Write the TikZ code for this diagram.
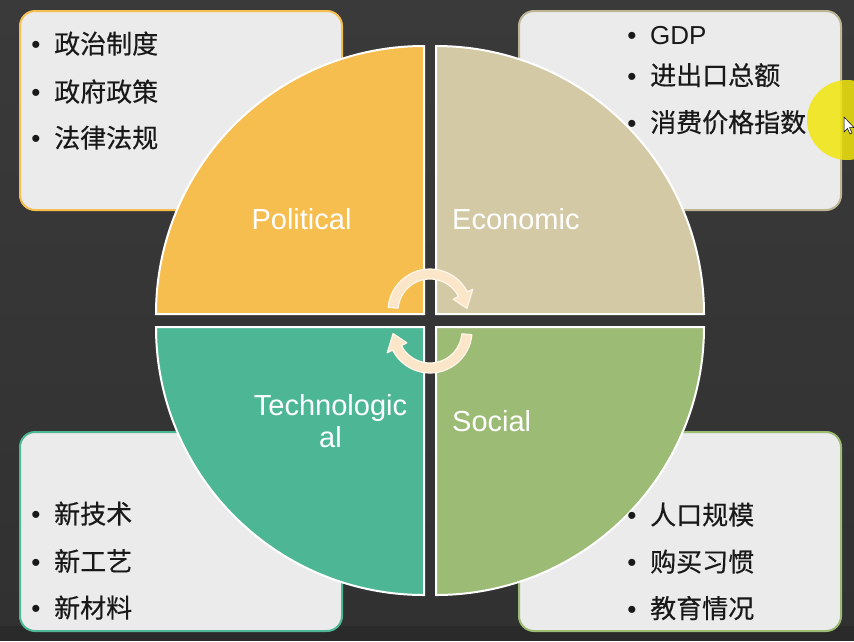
\documentclass[tikz,border=0pt]{standalone}
\usepackage{fontspec}
\setmainfont{Liberation Sans}
\newfontfamily\cjk[FakeBold=0.4]{Noto Sans CJK SC}
\usetikzlibrary{calc}
\definecolor{bgtop}{HTML}{3A3A3A}
\definecolor{bgbot}{HTML}{313131}
\definecolor{strip}{HTML}{2A2A2A}
\definecolor{boxfill}{HTML}{EBEBEB}
\definecolor{cpol}{HTML}{F6BD4F}
\definecolor{ceco}{HTML}{D3C9A5}
\definecolor{ctec}{HTML}{4DB795}
\definecolor{csoc}{HTML}{9CBB74}
\definecolor{arrowfill}{HTML}{FBE6CA}
\definecolor{arrowedge}{HTML}{FFF6EA}
\definecolor{hilite}{HTML}{F2E60E}
\tikzset{
  box/.style={draw, line width=2pt, fill=boxfill, rounded corners=15pt,
    minimum width=322pt, minimum height=199pt, inner sep=0pt},
  quad/.style={draw=white, line width=2pt},
  lab/.style={text=white, font=\fontsize{29}{32}\selectfont, inner sep=0pt},
  item/.style={anchor=base west, font=\cjk\fontsize{26}{30}\selectfont, inner sep=0pt, text=black!90},
  latinitem/.style={anchor=base west, font=\fontsize{26}{30}\selectfont, inner sep=0pt, text=black!90},
  bul/.style={anchor=base, font=\fontsize{26}{30}\selectfont, inner sep=0pt, text=black!90},
  carrow/.style={fill=arrowfill, draw=arrowedge, line width=1.2pt, line join=round},
}
\begin{document}
\begin{tikzpicture}[x=1pt,y=-1pt]
\useasboundingbox (0,0) rectangle (854,641);
% background
\shade[top color=bgtop, bottom color=bgbot] (0,0) rectangle (854,626);
\fill[strip] (0,626) rectangle (854,641);

% corner boxes
\node[box, draw=cpol] (boxP) at (181,110.5) {};
\node[box, draw=ceco!90!black] (boxE) at (680,110.5) {};
\node[box, draw=ctec] (boxT) at (181,531.5) {};
\node[box, draw=csoc] (boxS) at (680,531.5) {};

% quadrants
\filldraw[quad, fill=cpol] (424,314) -- (156,314) arc[start angle=180, end angle=270, radius=268] -- cycle;
\filldraw[quad, fill=ceco] (436,314) -- (436,46) arc[start angle=270, end angle=360, radius=268] -- cycle;
\filldraw[quad, fill=ctec] (424,327) -- (424,595) arc[start angle=90, end angle=180, radius=268] -- cycle;
\filldraw[quad, fill=csoc] (436,327) -- (704,327) arc[start angle=0, end angle=90, radius=268] -- cycle;

% quadrant labels
\node[lab] (lP) at (301.5,218.8) {Political};
\node[lab, anchor=west] (lE) at (452,218.8) {Economic};
\node[lab, align=center] (lT) at (330.5,421) {Technologic\\al};
\node[lab, anchor=west] (lS) at (452,421) {Social};

% bullet items: top-left
\node[bul] (bP1) at (36,53.5) {•};
\node[item] (tP1) at (54,53.5) {政治制度};
\node[bul] (bP2) at (36,101.5) {•};
\node[item] (tP2) at (54,101.5) {政府政策};
\node[bul] (bP3) at (36,147.5) {•};
\node[item] (tP3) at (54,147.5) {法律法规};

% top-right
\node[bul] (bE1) at (632,44.5) {•};
\node[latinitem] (tE1) at (650,44.5) {GDP};
\node[bul] (bE2) at (632,85) {•};
\node[item] (tE2) at (650,85) {进出口总额};
\node[bul] (bE3) at (632,132) {•};
\node[item] (tE3) at (650,132) {消费价格指数};

% bottom-left
\node[bul] (bT1) at (36,523.5) {•};
\node[item] (tT1) at (54,523.5) {新技术};
\node[bul] (bT2) at (36,571) {•};
\node[item] (tT2) at (54,571) {新工艺};
\node[bul] (bT3) at (36,617.5) {•};
\node[item] (tT3) at (54,617.5) {新材料};

% bottom-right
\node[bul] (bS1) at (632,524.5) {•};
\node[item] (tS1) at (650,524.5) {人口规模};
\node[bul] (bS2) at (632,571.5) {•};
\node[item] (tS2) at (650,571.5) {购买习惯};
\node[bul] (bS3) at (632,618) {•};
\node[item] (tS3) at (650,618) {教育情况};

% circular arrows
\coordinate (cu) at (430,311);
\coordinate (cl) at (430,331);
\draw[carrow] ($(cu)+(-175:42)$) arc[start angle=-175, end angle=-27, radius=42]
  -- ($(cu)+(-27:48)$) -- ($(cu)+(-4:37)$) -- ($(cu)+(-27:26)$) -- ($(cu)+(-27:32)$)
  arc[start angle=-27, end angle=-175, radius=32] -- cycle;
\draw[carrow] ($(cl)+(5:42)$) arc[start angle=5, end angle=153, radius=42]
  -- ($(cl)+(153:48)$) -- ($(cl)+(176:37)$) -- ($(cl)+(153:26)$) -- ($(cl)+(153:32)$)
  arc[start angle=153, end angle=5, radius=32] -- cycle;

% pointer highlight and cursor
\fill[hilite, opacity=0.85] (847,120) circle[radius=40];
\filldraw[fill=white, draw=black, line width=0.5pt] (844,117) -- (844,132) -- (847.5,128.5) -- (850,134) -- (852,133) -- (849.5,127.5) -- (854,127.5) -- cycle;
\end{tikzpicture}
\end{document}
